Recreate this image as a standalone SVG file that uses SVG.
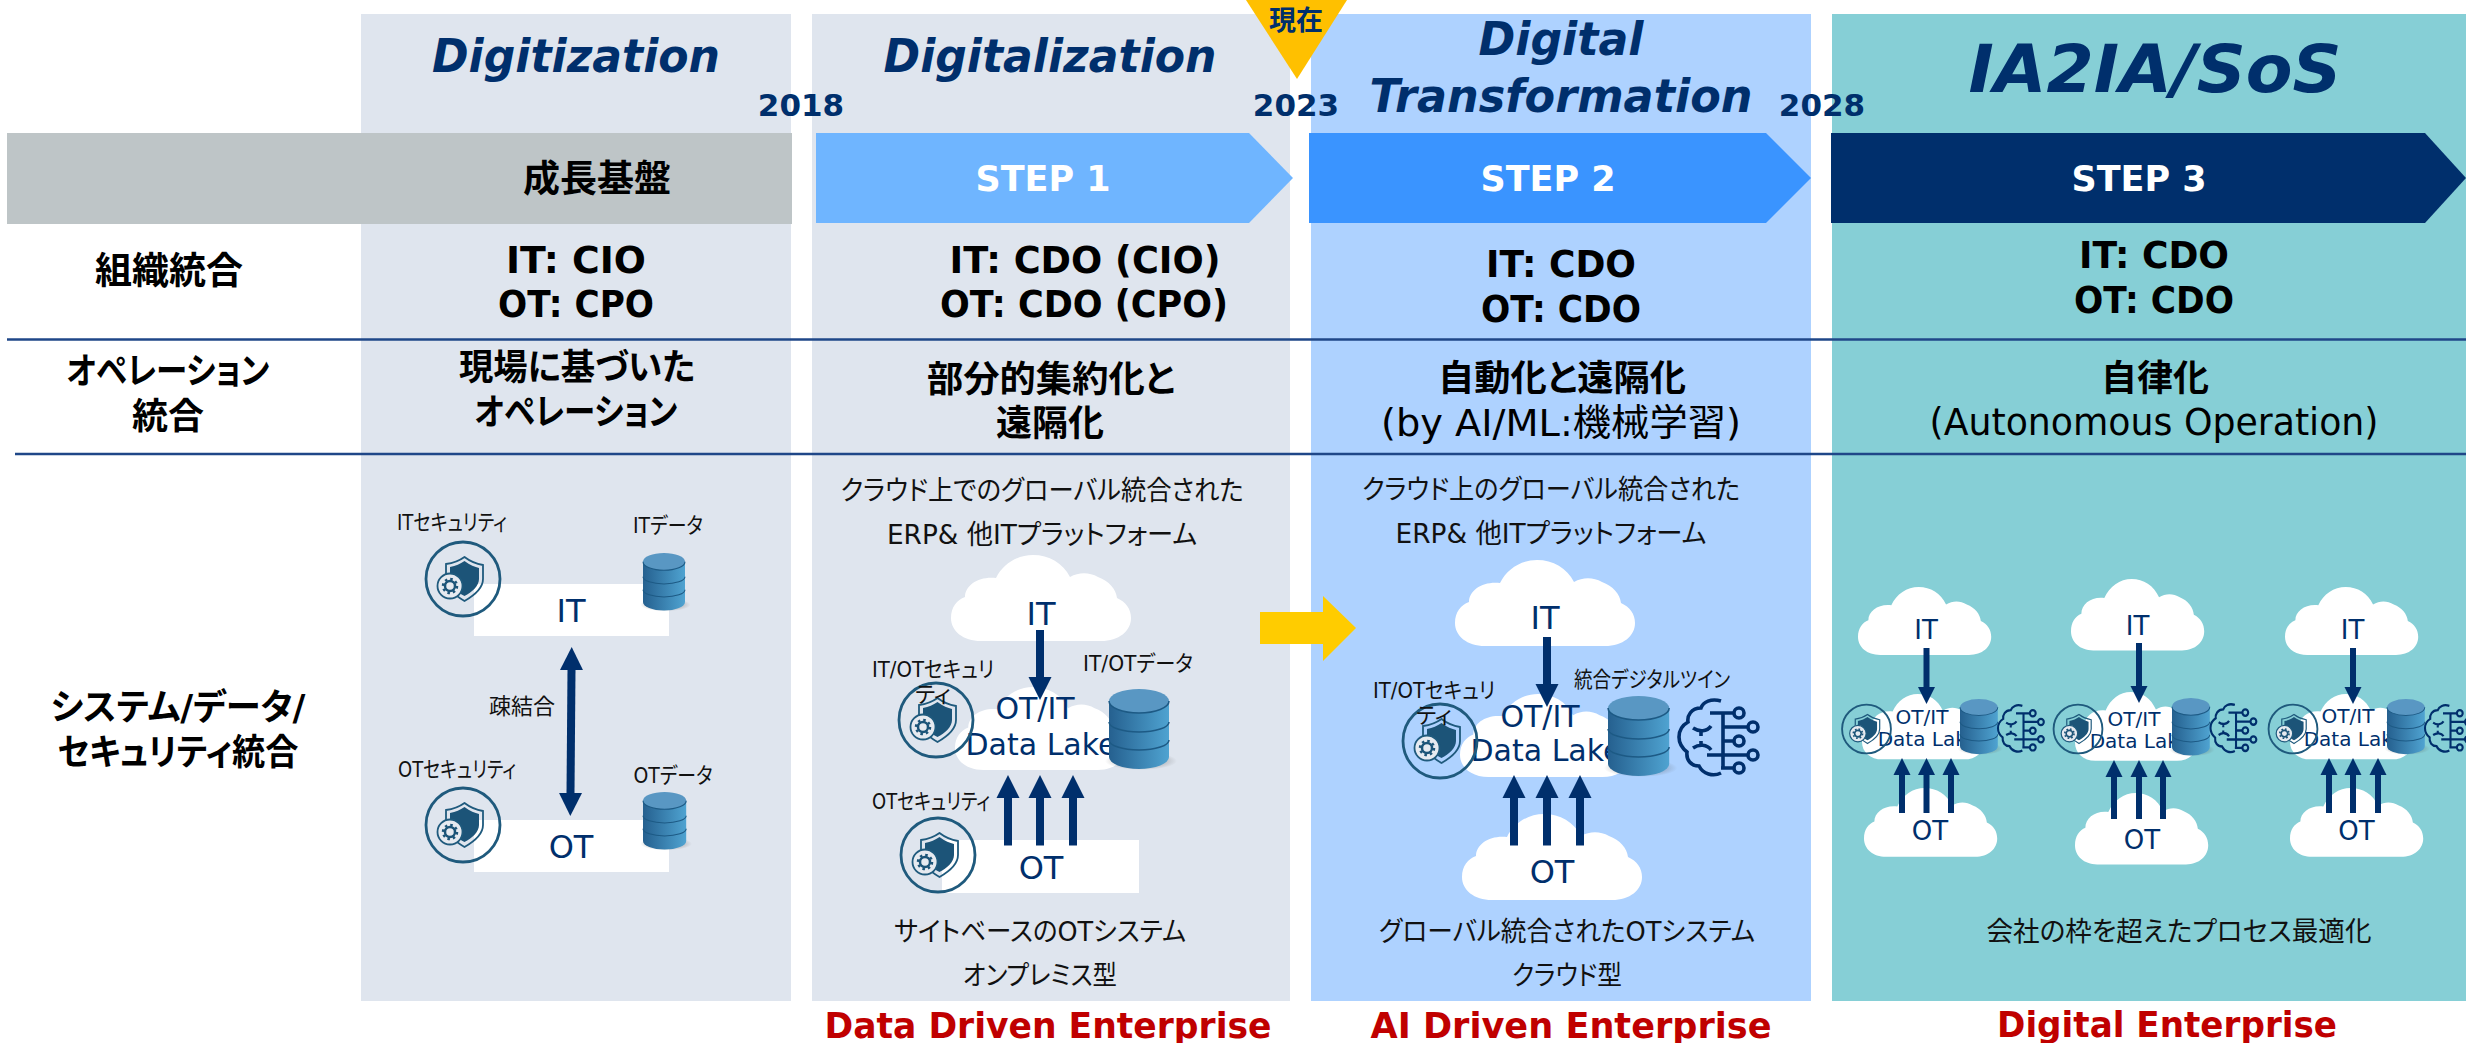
<svg xmlns="http://www.w3.org/2000/svg" xmlns:xlink="http://www.w3.org/1999/xlink" width="2466" height="1043" viewBox="0 0 2466 1043">
<style>
text{font-family:"DejaVu Sans","Noto Sans CJK JP",sans-serif;font-feature-settings:"palt";text-anchor:middle}
.title{font-weight:700;font-style:italic;fill:#002f6c;font-size:47px}
.year{font-weight:700;fill:#002f6c;font-size:31px}
.step{font-weight:700;fill:#fff;font-size:35px}
.h{font-weight:700;fill:#000;font-size:37px}
.hj{font-weight:700;fill:#000;font-size:36px}
.r{fill:#000;font-size:37px}
.d{fill:#111;font-size:27px}
.s{fill:#111;font-size:22px}
.n{fill:#002f6c;font-size:32px}
.n2{fill:#002f6c;font-size:30px}
.n3{fill:#002f6c;font-size:26px}
.n4{fill:#002f6c;font-size:20px}
.red{font-weight:700;fill:#c00000;font-size:35px}
.ln{stroke:#1f4788;stroke-width:2.5;fill:none}
.ar{stroke:#002f6c;fill:none;stroke-width:8}
.ar2{stroke:#002f6c;fill:none;stroke-width:6}
.w{fill:#fff}
</style>
<defs>
<marker id="h" markerUnits="userSpaceOnUse" markerWidth="24" markerHeight="24" refX="0" refY="12" orient="auto-start-reverse"><path d="M0 0.500L23 12L0 23.500Z" fill="#002f6c"/></marker>
<marker id="h2" markerUnits="userSpaceOnUse" markerWidth="18" markerHeight="18" refX="0" refY="9" orient="auto"><path d="M0 0.500L17 9L0 17.500Z" fill="#002f6c"/></marker>
<path id="cloud" fill="#fff" d="M30 86C12 86 0 76 0 63C0 52 6 45 14 42C14 30 28 21 45 23C52 9 66 0 82 0C98 0 112 8 119 22C128 17 138 17 147 22C158 26 165 34 166 43C175 47 180 54 180 63C180 76 168 86 150 86Z"/>
<linearGradient id="dbg" x1="0" x2="1" y1="0" y2="0"><stop offset="0" stop-color="#25608f"/><stop offset="1" stop-color="#4fa3d1"/></linearGradient>
<radialGradient id="dbs"><stop offset="0" stop-color="#555" stop-opacity=".75"/><stop offset="1" stop-color="#555" stop-opacity="0"/></radialGradient>
<g id="db">
<ellipse cx="32" cy="72" rx="36" ry="9" fill="url(#dbs)"/>
<path d="M0 12V68A30 12 0 0 0 60 68V12Z" fill="url(#dbg)"/>
<ellipse cx="30" cy="12" rx="30" ry="12" fill="#5997c3"/>
<path d="M0 12A30 12 0 0 0 60 12M0 33A30 10 0 0 0 60 33M0 51A30 10 0 0 0 60 51" fill="none" stroke="#1d5a85" stroke-width="1.500"/>
</g>
<g id="sec">
<circle r="37" fill="none" stroke="#1f5a7d" stroke-width="2.800"/>
<path d="M1.500 -22C8 -17 14 -15 20 -14V0C20 9 12 16 1.500 22C-7 17 -17 10 -17 0V-15C-9 -16 -4 -18 1.500 -22Z" fill="none" stroke="#1f5a7d" stroke-width="1.800"/>
<path d="M1.500 -18C7 -14 12 -12 16 -11V0C16 7 9 13 1.500 17C-6 13 -13 7 -13 0V-12C-7 -13 -3 -15 1.500 -18Z" fill="#1c5478"/>
<circle cx="-13" cy="7" r="12.500" fill="#e6eaf0" stroke="#1f5a7d" stroke-width="1.800"/>
<circle cx="-13" cy="7" r="5" fill="none" stroke="#1c5478" stroke-width="2.500"/>
<circle cx="-13" cy="7" r="7" fill="none" stroke="#1c5478" stroke-width="2.500" stroke-dasharray="2.500 3"/>
</g>
<g id="brain" fill="none" stroke="#002f6c" stroke-width="3.600">
<path d="M42 3C32 0 24 4 22 10C12 10 8 18 9 24C2 28 0 34 0 39C0 46 3 50 8 54C7 62 12 68 20 68C24 76 34 79 42 75"/>
<path d="M31 15H55M44 15V70M44 29H69M44 43H55M28 57H69M42 70H55M14 30C20 34 28 34 32 28M22 32V38M14 50C20 46 28 46 32 52M22 48V43"/>
<circle cx="60" cy="15" r="5"/><circle cx="74" cy="29" r="5"/><circle cx="60" cy="43" r="5"/><circle cx="74" cy="57" r="5"/><circle cx="60" cy="70" r="5"/>
</g>
</defs>
<rect width="2466" height="1043" fill="#fff"/>

<g id="panels">
<rect x="361" y="14" width="430" height="987" fill="#dfe5ee"/>
<rect x="812" y="14" width="478" height="987" fill="#dfe5ee"/>
<rect x="1311" y="14" width="500" height="987" fill="#aed2ff"/>
<rect x="1832" y="14" width="634" height="987" fill="#86cfd6"/>
</g>
<g id="rules">
<line class="ln" x1="7" y1="339.500" x2="2466" y2="339.500"/>
<line class="ln" x1="15" y1="454" x2="2466" y2="454"/>
</g>

<g id="phase-titles">
<text class="title" x="576" y="72" textLength="288" lengthAdjust="spacingAndGlyphs">Digitization</text>
<text class="title" x="1050" y="72" textLength="333" lengthAdjust="spacingAndGlyphs">Digitalization</text>
<text class="title" x="1561" y="55" textLength="165" lengthAdjust="spacingAndGlyphs">Digital</text>
<text class="title" x="1561" y="112" textLength="383" lengthAdjust="spacingAndGlyphs">Transformation</text>
<text class="title" x="2155" y="92" style="font-size:66px" textLength="373" lengthAdjust="spacingAndGlyphs">IA2IA/SoS</text>
</g>

<g id="base-bar"><rect x="7" y="133" width="785" height="91" fill="#bec5c7"/><text class="hj" x="597" y="192" style="font-size:37px">成長基盤</text></g>
<g id="step1"><path d="M816 133H1249L1293 178L1249 223H816Z" fill="#6fb5ff"/><text class="step" x="1043" y="191" textLength="135" lengthAdjust="spacingAndGlyphs">STEP 1</text></g>
<g id="step2"><path d="M1309 133H1766L1811 178L1766 223H1309Z" fill="#3a94ff"/><text class="step" x="1548" y="191" textLength="135" lengthAdjust="spacingAndGlyphs">STEP 2</text></g>
<g id="step3"><path d="M1831 133H2425L2466 178L2425 223H1831Z" fill="#002f6c"/><text class="step" x="2139" y="191" textLength="135" lengthAdjust="spacingAndGlyphs">STEP 3</text></g>

<g id="years">
<text class="year" x="801" y="116">2018</text>
<text class="year" x="1296" y="116">2023</text>
<text class="year" x="1822" y="116">2028</text>
</g>
<g id="now"><path d="M1246 0H1347L1297 79Z" fill="#ffc000"/><text x="1296" y="30" style="font-weight:700;fill:#002f6c;font-size:27px">現在</text></g>

<g id="row-labels">
<text class="hj" x="169" y="284" style="font-size:37px">組織統合</text>
<text class="hj" x="168" y="384" textLength="203" lengthAdjust="spacingAndGlyphs">オペレーション</text>
<text class="hj" x="168" y="429">統合</text>
<text class="hj" x="178" y="720" textLength="255" lengthAdjust="spacingAndGlyphs">システム/データ/</text>
<text class="hj" x="178" y="765" textLength="241" lengthAdjust="spacingAndGlyphs">セキュリティ統合</text>
</g>
<g id="org-row">
<text class="h" x="576" y="273" textLength="140" lengthAdjust="spacingAndGlyphs">IT: CIO</text><text class="h" x="576" y="317" textLength="156" lengthAdjust="spacingAndGlyphs">OT: CPO</text>
<text class="h" x="1085" y="273" textLength="271" lengthAdjust="spacingAndGlyphs">IT: CDO (CIO)</text><text class="h" x="1084" y="317" textLength="288" lengthAdjust="spacingAndGlyphs">OT: CDO (CPO)</text>
<text class="h" x="1561" y="277" textLength="150" lengthAdjust="spacingAndGlyphs">IT: CDO</text><text class="h" x="1561" y="322" textLength="160" lengthAdjust="spacingAndGlyphs">OT: CDO</text>
<text class="h" x="2154" y="268" textLength="150" lengthAdjust="spacingAndGlyphs">IT: CDO</text><text class="h" x="2154" y="313" textLength="160" lengthAdjust="spacingAndGlyphs">OT: CDO</text>
</g>
<g id="ops-row">
<text class="hj" x="577" y="380" textLength="236" lengthAdjust="spacingAndGlyphs">現場に基づいた</text><text class="hj" x="576" y="425" textLength="203" lengthAdjust="spacingAndGlyphs">オペレーション</text>
<text class="hj" x="1051" y="392" textLength="248" lengthAdjust="spacingAndGlyphs">部分的集約化と</text><text class="hj" x="1050" y="436">遠隔化</text>
<text class="hj" x="1562" y="391" textLength="248" lengthAdjust="spacingAndGlyphs">自動化と遠隔化</text><text class="r" x="1561" y="436" textLength="360" lengthAdjust="spacingAndGlyphs">(by AI/ML:機械学習)</text>
<text class="hj" x="2155" y="391">自律化</text><text class="r" x="2154" y="435" textLength="449" lengthAdjust="spacingAndGlyphs">(Autonomous Operation)</text>
</g>

<g id="p1-it">
<rect x="474" y="584" width="195" height="52" class="w"/>
<text class="n" x="571" y="622">IT</text>
<text class="s" x="452" y="530" textLength="110" lengthAdjust="spacingAndGlyphs">ITセキュリティ</text>
<use href="#sec" x="463" y="579"/>
<text class="s" x="668" y="533" textLength="70" lengthAdjust="spacingAndGlyphs">ITデータ</text>
<use href="#db" transform="translate(643 553) scale(.7 .72)"/>
</g>
<g id="p1-ot">
<rect x="474" y="820" width="195" height="52" class="w"/>
<text class="n" x="571" y="858">OT</text>
<text class="s" x="457" y="777" textLength="118" lengthAdjust="spacingAndGlyphs">OTセキュリティ</text>
<use href="#sec" x="463" y="825"/>
<text class="s" x="673" y="783" textLength="79" lengthAdjust="spacingAndGlyphs">OTデータ</text>
<use href="#db" transform="translate(643 792) scale(.72 .72)"/>
</g>
<text class="s" x="522" y="714">疎結合</text>

<g id="p2-it">
<text class="d" x="1042" y="500" textLength="403" lengthAdjust="spacingAndGlyphs">クラウド上でのグローバル統合された</text>
<text class="d" x="1042" y="544" textLength="310" lengthAdjust="spacingAndGlyphs">ERP&amp; 他ITプラットフォーム</text>
<use href="#cloud" transform="translate(951 555)"/>
<text class="n" x="1041" y="625">IT</text>
</g>
<g id="p2-lake">
<use href="#cloud" transform="translate(955 687) scale(.95 .965)"/>
<text class="n2" x="1035" y="719">OT/IT</text>
<text class="n2" x="1041" y="755">Data Lake</text>
<use href="#sec" x="936" y="720"/>
<text class="s" x="933" y="677" textLength="122" lengthAdjust="spacingAndGlyphs">IT/OTセキュリ</text>
<text class="s" x="933" y="702">ティ</text>
<text class="s" x="1138" y="671" textLength="110" lengthAdjust="spacingAndGlyphs">IT/OTデータ</text>
<use href="#db" x="1109" y="689"/>
</g>
<g id="p2-ot">
<rect x="942" y="840" width="197" height="53" class="w"/>
<use href="#sec" x="938" y="855"/>
<text class="s" x="931" y="809" textLength="118" lengthAdjust="spacingAndGlyphs">OTセキュリティ</text>
<text class="n" x="1041" y="879">OT</text>
<text class="d" x="1040" y="941" textLength="292" lengthAdjust="spacingAndGlyphs">サイトベースのOTシステム</text>
<text class="d" x="1040" y="985" textLength="154" lengthAdjust="spacingAndGlyphs">オンプレミス型</text>
</g>
<text class="red" x="1048" y="1038" textLength="447" lengthAdjust="spacingAndGlyphs">Data Driven Enterprise</text>

<g id="p3-it">
<text class="d" x="1551" y="499" textLength="378" lengthAdjust="spacingAndGlyphs">クラウド上のグローバル統合された</text>
<text class="d" x="1551" y="543" textLength="311" lengthAdjust="spacingAndGlyphs">ERP&amp; 他ITプラットフォーム</text>
<use href="#cloud" transform="translate(1455 560)"/>
<text class="n" x="1545" y="629">IT</text>
</g>
<g id="p3-lake">
<use href="#cloud" transform="translate(1460 694) scale(.95 .965)"/>
<text class="n2" x="1540" y="727">OT/IT</text>
<text class="n2" x="1546" y="761">Data Lake</text>
<use href="#sec" x="1440" y="741"/>
<text class="s" x="1434" y="698" textLength="122" lengthAdjust="spacingAndGlyphs">IT/OTセキュリ</text>
<text class="s" x="1434" y="723">ティ</text>
<text class="s" x="1652" y="687" textLength="156" lengthAdjust="spacingAndGlyphs">統合デジタルツイン</text>
<use href="#db" transform="translate(1608 696) scale(1.02 1)"/>
<use href="#brain" x="1679" y="698"/>
</g>
<g id="p3-ot">
<use href="#cloud" transform="translate(1462 814)"/>
<text class="n" x="1552" y="883">OT</text>
<text class="d" x="1567" y="941" textLength="376" lengthAdjust="spacingAndGlyphs">グローバル統合されたOTシステム</text>
<text class="d" x="1567" y="985" textLength="110" lengthAdjust="spacingAndGlyphs">クラウド型</text>
</g>
<text class="red" x="1571" y="1038" textLength="401" lengthAdjust="spacingAndGlyphs">AI Driven Enterprise</text>

<g id="p4-a">
<use href="#cloud" transform="translate(1858 587) scale(.74 .79)"/>
<text class="n3" x="1926" y="639">IT</text>
<use href="#cloud" transform="translate(1862 694) scale(.68 .76)"/>
<text class="n4" x="1922" y="724">OT/IT</text>
<text class="n4" x="1928" y="746">Data Lake</text>
<use href="#sec" transform="translate(1866.500 729) scale(.66)"/>
<use href="#db" transform="translate(1960 699) scale(.63 .69)"/>
<use href="#brain" transform="translate(1998 704) scale(.58 .62)"/>
<use href="#cloud" transform="translate(1864 788) scale(.74 .8)"/>
<text class="n3" x="1930" y="840">OT</text>
</g>
<g id="p4-b">
<use href="#cloud" transform="translate(2071 579) scale(.74 .83)"/>
<text class="n3" x="2137.500" y="635">IT</text>
<use href="#cloud" transform="translate(2075 692) scale(.68 .8)"/>
<text class="n4" x="2134" y="726">OT/IT</text>
<text class="n4" x="2140" y="748">Data Lake</text>
<use href="#sec" transform="translate(2078 729) scale(.66)"/>
<use href="#db" transform="translate(2172 698) scale(.63 .72)"/>
<use href="#brain" transform="translate(2210.500 703) scale(.58 .64)"/>
<use href="#cloud" transform="translate(2075 793) scale(.74 .83)"/>
<text class="n3" x="2142" y="849">OT</text>
</g>
<g id="p4-c">
<use href="#cloud" transform="translate(2285 587) scale(.74 .79)"/>
<text class="n3" x="2352.500" y="639">IT</text>
<use href="#cloud" transform="translate(2290 694) scale(.68 .76)"/>
<text class="n4" x="2348" y="723">OT/IT</text>
<text class="n4" x="2354" y="746">Data Lake</text>
<use href="#sec" transform="translate(2293 729) scale(.66)"/>
<use href="#db" transform="translate(2387 699) scale(.63 .69)"/>
<use href="#brain" transform="translate(2425 704) scale(.58 .62)"/>
<use href="#cloud" transform="translate(2290 788) scale(.74 .8)"/>
<text class="n3" x="2356.500" y="840">OT</text>
</g>
<text class="d" x="2179" y="941" textLength="385" lengthAdjust="spacingAndGlyphs">会社の枠を超えたプロセス最適化</text>
<text class="red" x="2167" y="1037" textLength="340" lengthAdjust="spacingAndGlyphs">Digital Enterprise</text>

<g id="connectors">
<line class="ar" x1="571.500" y1="670" x2="570.500" y2="793" marker-start="url(#h)" marker-end="url(#h)"/>
<line class="ar" x1="1040" y1="630" x2="1040" y2="677" marker-end="url(#h)"/>
<line class="ar" x1="1008" y1="845.500" x2="1008" y2="798" marker-end="url(#h)"/>
<line class="ar" x1="1040" y1="845.500" x2="1040" y2="798" marker-end="url(#h)"/>
<line class="ar" x1="1073" y1="845.500" x2="1073" y2="798" marker-end="url(#h)"/>
<line class="ar" x1="1547" y1="637" x2="1547" y2="684" marker-end="url(#h)"/>
<line class="ar" x1="1514" y1="845.500" x2="1514" y2="798" marker-end="url(#h)"/>
<line class="ar" x1="1547" y1="845.500" x2="1547" y2="798" marker-end="url(#h)"/>
<line class="ar" x1="1580" y1="845.500" x2="1580" y2="798" marker-end="url(#h)"/>
<line class="ar2" x1="1926.500" y1="648" x2="1926.500" y2="687" marker-end="url(#h2)"/>
<line class="ar2" x1="1902" y1="813" x2="1902" y2="775" marker-end="url(#h2)"/>
<line class="ar2" x1="1926.500" y1="813" x2="1926.500" y2="775" marker-end="url(#h2)"/>
<line class="ar2" x1="1951" y1="813" x2="1951" y2="775" marker-end="url(#h2)"/>
<line class="ar2" x1="2139" y1="643" x2="2139" y2="686" marker-end="url(#h2)"/>
<line class="ar2" x1="2114" y1="819" x2="2114" y2="777" marker-end="url(#h2)"/>
<line class="ar2" x1="2139" y1="819" x2="2139" y2="777" marker-end="url(#h2)"/>
<line class="ar2" x1="2163" y1="819" x2="2163" y2="777" marker-end="url(#h2)"/>
<line class="ar2" x1="2353" y1="648" x2="2353" y2="687" marker-end="url(#h2)"/>
<line class="ar2" x1="2329" y1="813" x2="2329" y2="775" marker-end="url(#h2)"/>
<line class="ar2" x1="2353" y1="813" x2="2353" y2="775" marker-end="url(#h2)"/>
<line class="ar2" x1="2378" y1="813" x2="2378" y2="775" marker-end="url(#h2)"/>
<path d="M1260 612H1323V596L1356 628L1323 661V644H1260Z" fill="#ffcc00"/>
</g>
</svg>
